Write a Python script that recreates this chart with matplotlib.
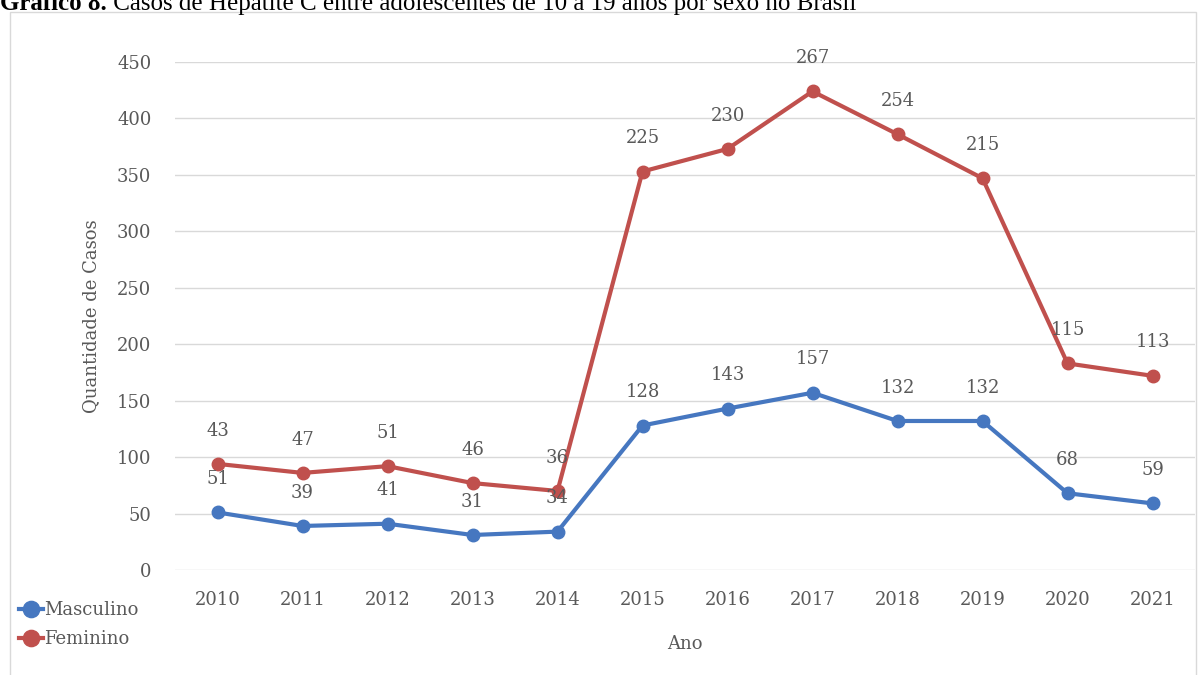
import matplotlib.pyplot as plt
from matplotlib.patches import Rectangle
from matplotlib.text import Annotation

anos = [2010, 2011, 2012, 2013, 2014, 2015, 2016, 2017, 2018, 2019, 2020, 2021]
masculino = [51, 39, 41, 31, 34, 128, 143, 157, 132, 132, 68, 59]
feminino = [43, 47, 51, 46, 36, 225, 230, 267, 254, 215, 115, 113]
yticks = [0, 50, 100, 150, 200, 250, 300, 350, 400, 450]

# linhas empilhadas: feminino fica em cima do masculino
fem_total = [m + f for m, f in zip(masculino, feminino)]

azul = '#4677c0'
vermelho = '#c0504d'
cinza = '#595959'
serif = ['DejaVu Serif']

fig = plt.figure(figsize=(12.02, 6.75), dpi=100)
fig.patches.append(Rectangle((10 / 1202, -0.01), 1186 / 1202, 1 - 12 / 675 + 0.01,
                             transform=fig.transFigure, fill=False,
                             edgecolor='#d9d9d9', linewidth=1))

# titulo: parte em negrito + resto normal, colado logo depois
t1 = fig.text(0.0, 1 - 10 / 675, 'Gráfico 8.', fontsize=18, fontweight='bold',
              family='Liberation Serif', va='baseline', ha='left')
fig.add_artist(Annotation(' Casos de Hepatite C entre adolescentes de 10 a 19 anos por sexo no Brasil',
                          xy=(1, 0), xycoords=t1, va='bottom', ha='left',
                          fontsize=18, family='Liberation Serif', annotation_clip=False))

ax = fig.add_axes([175 / 1202, 1 - 570 / 675, 1020 / 1202, 508 / 675])
ax.plot(anos, masculino, color=azul, lw=3, marker='o', ms=9, label='Masculino')
ax.plot(anos, fem_total, color=vermelho, lw=3, marker='o', ms=9, label='Feminino')

for x, y, v in zip(anos, masculino, masculino):
    ax.annotate(str(v), (x, y), xytext=(0, 24), textcoords='offset points',
                ha='center', va='center', fontsize=13, color=cinza, family=serif)
for x, y, v in zip(anos, fem_total, feminino):
    ax.annotate(str(v), (x, y), xytext=(0, 24), textcoords='offset points',
                ha='center', va='center', fontsize=13, color=cinza, family=serif)

ax.set_xlim(2009.5, 2021.5)
ax.set_ylim(0, 450)
ax.set_xticks(anos)
ax.set_yticks(yticks)
ax.grid(axis='y', color='#d9d9d9', lw=1)
ax.set_axisbelow(True)
for s in ax.spines.values():
    s.set_visible(False)
ax.tick_params(length=0, labelsize=13, colors=cinza)
ax.tick_params(axis='x', pad=15)
ax.tick_params(axis='y', pad=17)
for lab in ax.get_xticklabels() + ax.get_yticklabels():
    lab.set_family(serif)
ax.set_xlabel('Ano', fontsize=13, color=cinza, family=serif, labelpad=19)
ax.set_ylabel('Quantidade de Casos', fontsize=13, color=cinza, family=serif, labelpad=12)

leg = fig.legend(loc='upper left', bbox_to_anchor=(12 / 1202, 1 - 594 / 675),
                 frameon=False, handlelength=1.3, handletextpad=0.1,
                 labelspacing=0.6, prop={'family': serif, 'size': 13},
                 markerscale=1.3, borderaxespad=0)
for t in leg.get_texts():
    t.set_color(cinza)

fig.savefig('out.png', dpi=100)
